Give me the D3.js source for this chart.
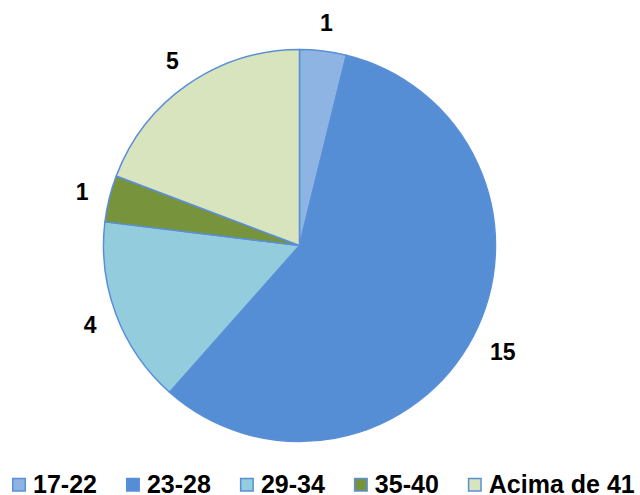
<!DOCTYPE html>
<html>
<head>
<meta charset="utf-8">
<script src="https://cdn.jsdelivr.net/npm/d3@7"></script>
<style>
  body { margin: 0; background: #fff; }
  text { font-family: "Liberation Sans", Arial, sans-serif; font-weight: bold; fill: #000; }
</style>
</head>
<body>
<div id="chart"></div>
<script>
// faixas etarias
var categories = ["17-22", "23-28", "29-34", "35-40", "Acima de 41"];
var values     = [1, 15, 4, 1, 5];
var colors     = ["#8EB4E3", "#558ED5", "#93CDDD", "#77933C", "#D7E4BD"];

var W = 640, H = 495;
var cx = 299.5, cy = 245.5, R = 196;

var svg = d3.select("#chart").append("svg")
  .attr("width", W).attr("height", H);

var data = categories.map(function(c, i){ return {cat: c, val: values[i], col: colors[i]}; });

var pie = d3.pie().sort(null).value(function(d){ return d.val; });
var arc = d3.arc().innerRadius(0).outerRadius(R);
var arcs = pie(data);

var g = svg.append("g").attr("transform", "translate(" + cx + "," + cy + ")");

g.selectAll("path")
  .data(arcs)
  .enter().append("path")
  .attr("d", arc)
  .attr("fill", function(d){ return d.data.col; })
  .attr("stroke", "#5A8FD8")
  .attr("stroke-width", 1.5)
  .attr("stroke-linejoin", "round");

//Data labels outside the slices
g.selectAll("text.lbl")
  .data(arcs)
  .enter().append("text")
  .attr("class", "lbl")
  .style("font-size", "23px")
  .attr("text-anchor", "middle")
  .attr("dy", "0.36em")
  .text(function(d){ return d.data.val; })
  .each(function(d){
    var a = (d.startAngle + d.endAngle) / 2;
    var w = this.getComputedTextLength();
    var r = 224 + (w - 13) / 2 * Math.abs(Math.sin(a));
    d3.select(this)
      .attr("x", r * Math.sin(a))
      .attr("y", -r * Math.cos(a));
  });

//Legend
var legend = svg.append("g");
var lx = 12;
data.forEach(function(d){
  var item = legend.append("g");
  item.append("rect")
    .attr("x", lx + 0.75).attr("y", 478.5)
    .attr("width", 12.5).attr("height", 12.5)
    .attr("fill", d.col)
    .attr("stroke", "#5A8FD8")
    .attr("stroke-width", 1.5);
  var t = item.append("text")
    .attr("x", lx + 21).attr("y", 493)
    .style("font-size", "25px")
    .text(d.cat);
  lx += 21 + t.node().getComputedTextLength() + 29;
});
</script>
</body>
</html>
